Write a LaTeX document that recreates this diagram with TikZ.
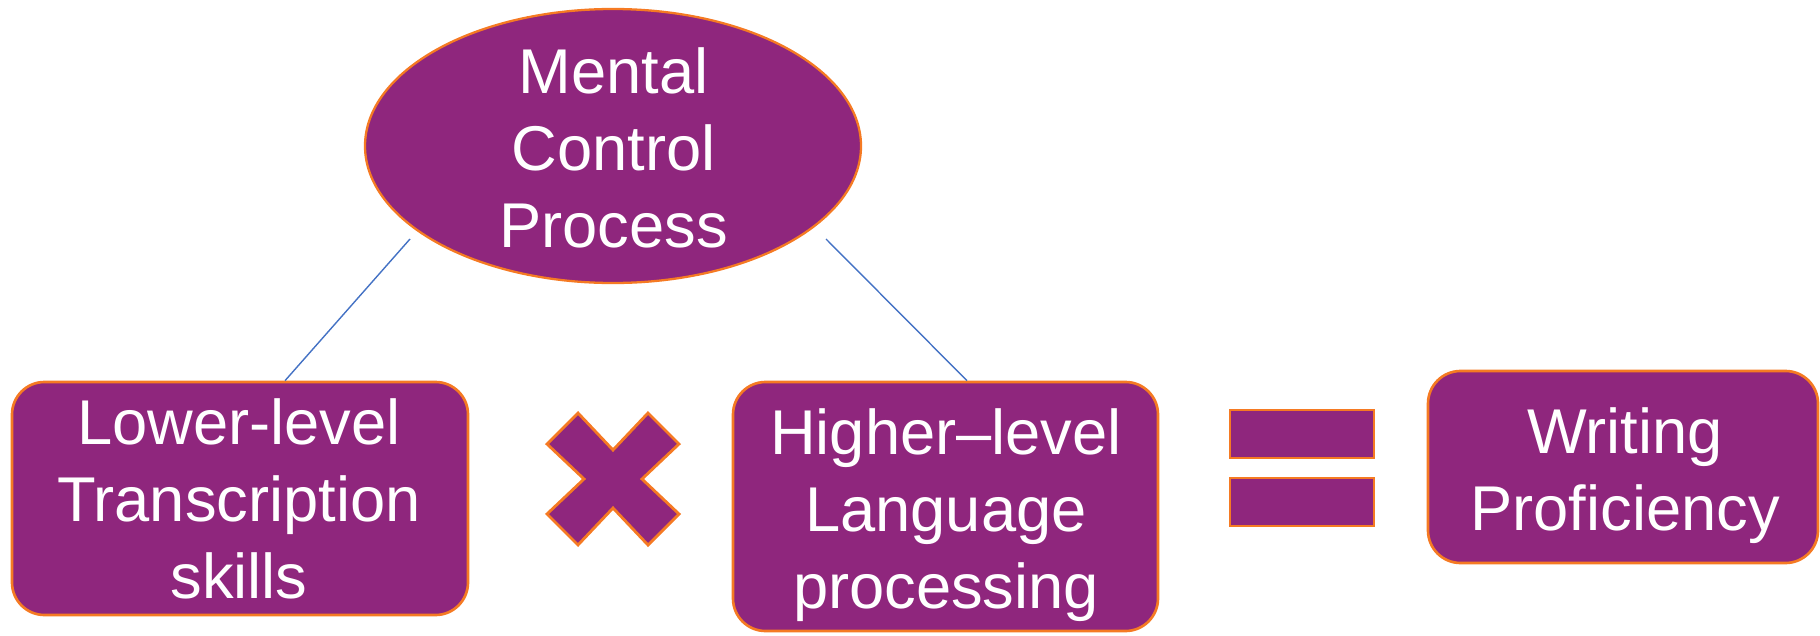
\documentclass[tikz,border=0pt]{standalone}
\usepackage{fontspec}
\setmainfont{Liberation Sans}
\usepackage{xcolor}
\usetikzlibrary{shapes.geometric}
\definecolor{boxpurple}{RGB}{143,38,125}
\definecolor{edgeorange}{RGB}{245,122,35}
\definecolor{linkblue}{RGB}{68,114,196}
\tikzset{
    purplebox/.style={
        draw=edgeorange,
        fill=boxpurple,
        rectangle,
        rounded corners=0.65cm,
        line width=1.5pt,
        inner sep=0pt
    },
    boxtext/.style={
        text=white,
        align=center,
        inner sep=0pt,
        font=\fontsize{36}{43.8}\selectfont
    },
    operator/.style={
        draw=edgeorange,
        fill=boxpurple,
        line width=1.6pt
    },
    link/.style={
        draw=linkblue,
        line width=0.8pt
    }
}

\begin{document}
\begin{tikzpicture}

\useasboundingbox (0,0) rectangle (36.4,-12.7);

% ---------------------------------------------------------
% Mental control process
% ---------------------------------------------------------
\node[
    purplebox,
    ellipse,
    line width=1.3pt,
    minimum width=9.92cm,
    minimum height=5.48cm
]
(mcp) at (12.26,-2.92) {};
\node[boxtext] (mcptext) at (12.27,-2.95) {Mental\\Control\\Process};

% ---------------------------------------------------------
% Skill boxes
% ---------------------------------------------------------
\node[purplebox, minimum width=9.12cm, minimum height=4.66cm]
(lower) at (4.8,-9.97) {};
\node[boxtext] (lowertext) at (4.78,-9.98) {Lower-level\\Transcription\\skills};

\node[purplebox, minimum width=8.5cm, minimum height=4.98cm]
(higher) at (18.91,-10.13) {};
\node[boxtext] (highertext) at (18.92,-10.31) {Higher–level\\Language\\processing};

\node[purplebox, minimum width=7.8cm, minimum height=3.84cm]
(writing) at (32.46,-9.34) {};
\node[boxtext] (writingtext) at (32.5,-9.51) {Writing\\Proficiency};

% ---------------------------------------------------------
% Links to the control process
% ---------------------------------------------------------
\coordinate (lowtop) at (8.2,-4.78);
\coordinate (hightop) at (16.52,-4.78);
\draw[link] (lowtop) -- ([xshift=0.9cm]lower.north);
\draw[link] (hightop) -- ([xshift=0.43cm]higher.north);

% ---------------------------------------------------------
% Times and equals signs
% ---------------------------------------------------------
\draw[operator, shift={(12.26,-9.58)}]
    (0,0.58) -- (0.7,1.32) -- (1.32,0.7) -- (0.58,0)
    -- (1.32,-0.7) -- (0.7,-1.32) -- (0,-0.58)
    -- (-0.7,-1.32) -- (-1.32,-0.7) -- (-0.58,0)
    -- (-1.32,0.7) -- (-0.7,1.32) -- cycle;

\foreach \top in {-8.2,-9.56}
{
    \draw[operator] (24.6,\top) rectangle (27.48,\top-0.96);
}

\end{tikzpicture}
\end{document}
